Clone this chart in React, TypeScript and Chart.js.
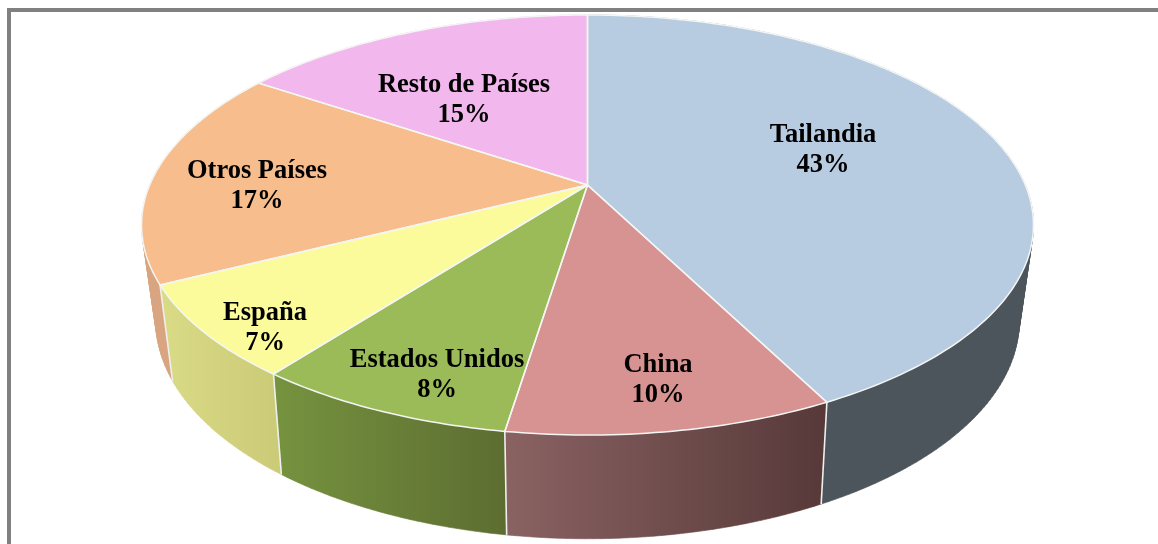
import React, { useEffect, useRef } from "react";
import { Chart, registerables } from "chart.js";

Chart.register(...registerables);

const categories = ["Tailandia", "China", "Estados Unidos", "España", "Otros Países", "Resto de Países"];
const shares = [42.5, 9.95, 7.97, 7.13, 16.85, 15.6];
const shareLabels = ["43%", "10%", "8%", "7%", "17%", "15%"];
const topColors = ["#b8cce1", "#d79391", "#9bbb59", "#fbfb9b", "#f7bd8d", "#f2b8ee"];
const sideGradients = [
  ["#4d555c", "#4d555c"],
  ["#8a6262", "#573939"],
  ["#76933f", "#5d6d31"],
  ["#dadb86", "#cbca77"],
  ["#d9a580", "#d9a580"],
  ["#c9a0c6", "#c9a0c6"],
];
const labelCentres = [
  [823, 150],
  [658, 380],
  [437, 375],
  [265, 328],
  [257, 186],
  [464, 100],
];

// Perspective projection of the pie's two discs on to the page
const APEX_X = 587.5;
const APEX_Y = 185;
const TILT = 0.1905;
const SCALE_X = 437.8;
const SCALE_Y = 202.4;
const BASE_TILT = 0.2;
const BASE_X = 423;
const BASE_Y = 209;
const BASE_APEX_Y = 277.5;

type P = [number, number];
const disc = (a: number, tilt: number, sx: number, sy: number, cy: number): P => {
  const t = a + Math.PI / 2;
  const u = Math.sin(t);
  const v = Math.cos(t);
  const d = 1 + tilt * v;
  return [APEX_X + (sx * u) / d, cy - (sy * v) / d];
};
const topPt = (a: number): P => disc(a, TILT, SCALE_X, SCALE_Y, APEX_Y);
const basePt = (a: number): P => disc(a, BASE_TILT, BASE_X, BASE_Y, BASE_APEX_Y);

const pie3d = {
  id: "pie3d",
  beforeDraw(chart: any) {
    const c = chart.ctx;
    c.save();
    c.strokeStyle = "#808080";
    c.lineWidth = 4;
    c.beginPath();
    c.moveTo(9, 544);
    c.lineTo(9, 10);
    c.lineTo(1158, 10);
    c.stroke();
    c.restore();
  },
  beforeDatasetsDraw(chart: any) {
    const c: CanvasRenderingContext2D = chart.ctx;
    const arcs = chart.getDatasetMeta(0).data;
    c.save();
    c.lineJoin = "round";
    // side walls
    arcs.forEach((arc: any, i: number) => {
      const { startAngle: s, endAngle: e } = arc.getProps(["startAngle", "endAngle"], true);
      const n = Math.max(8, Math.ceil((e - s) * 60));
      const pts: number[] = [];
      for (let k = 0; k <= n; k++) pts.push(s + ((e - s) * k) / n);
      const xs = pts.flatMap((a) => [topPt(a)[0], basePt(a)[0]]);
      const g = c.createLinearGradient(Math.min(...xs), 0, Math.max(...xs), 0);
      g.addColorStop(0, sideGradients[i][0]);
      g.addColorStop(1, sideGradients[i][1]);
      c.fillStyle = g;
      c.strokeStyle = g;
      c.lineWidth = 0.6;
      c.beginPath();
      for (let k = 0; k < n; k++) {
        let quad: P[] = [topPt(pts[k]), topPt(pts[k + 1]), basePt(pts[k + 1]), basePt(pts[k])];
        let area = 0;
        quad.forEach((p, j) => {
          const q = quad[(j + 1) % 4];
          area += p[0] * q[1] - q[0] * p[1];
        });
        if (area < 0) quad = quad.reverse();
        c.moveTo(quad[0][0], quad[0][1]);
        for (let j = 1; j < 4; j++) c.lineTo(quad[j][0], quad[j][1]);
        c.closePath();
      }
      c.fill();
      c.stroke();
    });
    // seams between walls
    c.strokeStyle = "#eef0ee";
    c.lineWidth = 1.6;
    arcs.forEach((arc: any) => {
      const { startAngle: s } = arc.getProps(["startAngle"], true);
      const a = topPt(s);
      const b = basePt(s);
      c.beginPath();
      c.moveTo(a[0], a[1]);
      c.lineTo(b[0], b[1]);
      c.stroke();
    });
    // top faces
    arcs.forEach((arc: any, i: number) => {
      const { startAngle: s, endAngle: e } = arc.getProps(["startAngle", "endAngle"], true);
      const n = Math.max(8, Math.ceil((e - s) * 60));
      c.beginPath();
      c.moveTo(APEX_X, APEX_Y);
      for (let k = 0; k <= n; k++) {
        const p = topPt(s + ((e - s) * k) / n);
        c.lineTo(p[0], p[1]);
      }
      c.closePath();
      c.fillStyle = topColors[i];
      c.fill();
    });
    // light outlines of the top faces
    c.strokeStyle = "#f4f6f4";
    c.lineWidth = 1.5;
    arcs.forEach((arc: any) => {
      const { startAngle: s, endAngle: e } = arc.getProps(["startAngle", "endAngle"], true);
      const n = Math.max(8, Math.ceil((e - s) * 60));
      c.beginPath();
      c.moveTo(APEX_X, APEX_Y);
      for (let k = 0; k <= n; k++) {
        const p = topPt(s + ((e - s) * k) / n);
        c.lineTo(p[0], p[1]);
      }
      c.closePath();
      c.stroke();
    });
    // labels
    c.fillStyle = "#000";
    c.font = "bold 26.5px 'Liberation Serif'";
    c.textAlign = "center";
    c.textBaseline = "middle";
    categories.forEach((name, i) => {
      const [x, y] = labelCentres[i];
      c.fillText(name, x, y - 15);
      c.fillText(shareLabels[i], x, y + 15);
    });
    c.restore();
    return false;
  },
};

export default function App() {
  const ref = useRef<HTMLCanvasElement>(null);
  useEffect(() => {
    document.body.style.background = "#fff";
    const chart = new Chart(ref.current!, {
      type: "pie",
      data: {
        labels: categories,
        datasets: [{ data: shares, backgroundColor: topColors }],
      },
      options: {
        animation: false,
        responsive: false,
        plugins: { legend: { display: false }, tooltip: { enabled: false } },
      },
      plugins: [pie3d],
    });
    return () => chart.destroy();
  }, []);
  return (
    <div style={{ position: "fixed", left: 0, top: 0, width: 1158, height: 544, background: "#fff" }}>
      <canvas ref={ref} width={1158} height={544} style={{ display: "block" }} />
    </div>
  );
}
